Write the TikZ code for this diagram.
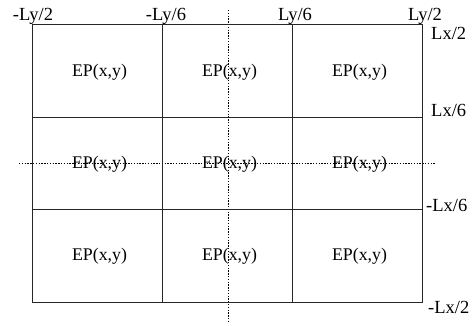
\documentclass[tikz,border=0pt]{standalone}
\usepackage{fontspec}
\setmainfont{Liberation Serif}
\begin{document}
\begin{tikzpicture}[x=1pt,y=-1pt,
  cellline/.style={draw=black!85,line width=0.9pt},
  axisline/.style={draw=black,line width=0.7pt,dash pattern=on 1.4pt off 1.4pt},
  celltext/.style={font=\fontsize{17.8}{19}\selectfont,inner sep=0pt},
  toplab/.style={font=\fontsize{18.5}{19}\selectfont,inner sep=0pt,anchor=base},
  sidelab/.style={font=\fontsize{18.5}{19}\selectfont,inner sep=0pt,anchor=base west}]
\useasboundingbox (0,0) rectangle (472,325);
% grid corners
\coordinate (g00) at (32,24);
\coordinate (g11) at (422,302);
% dotted axes
\coordinate (vt) at (228,10);
\coordinate (vb) at (228,322);
\coordinate (hl) at (19,163);
\coordinate (hr) at (436,163);
\draw[axisline] (vt) -- (vb);
\draw[axisline] (hl) -- (hr);
% grid
\draw[cellline] (g00) rectangle (g11);
\draw[cellline] (162,24) -- (162,302);
\draw[cellline] (292,24) -- (292,302);
\draw[cellline] (32,117) -- (422,117);
\draw[cellline] (32,209) -- (422,209);
% cell texts
\foreach \c/\x in {1/99.5,2/229.5,3/359.5}{
  \foreach \r/\y in {1/72,2/164,3/256.5}{
    \node[celltext] (ep\r\c) at (\x,\y) {EP(x,y)};
  }
}
% top labels
\node[toplab] (t1) at (33,20) {-Ly/2};
\node[toplab] (t2) at (166,20) {-Ly/6};
\node[toplab] (t3) at (295,20) {Ly/6};
\node[toplab] (t4) at (425,20) {Ly/2};
% side labels
\node[sidelab] (s1) at (431,39) {Lx/2};
\node[sidelab] (s2) at (431,116) {Lx/6};
\node[sidelab] (s3) at (426,211) {-Lx/6};
\node[sidelab] (s4) at (428,313) {-Lx/2};
\end{tikzpicture}
\end{document}
